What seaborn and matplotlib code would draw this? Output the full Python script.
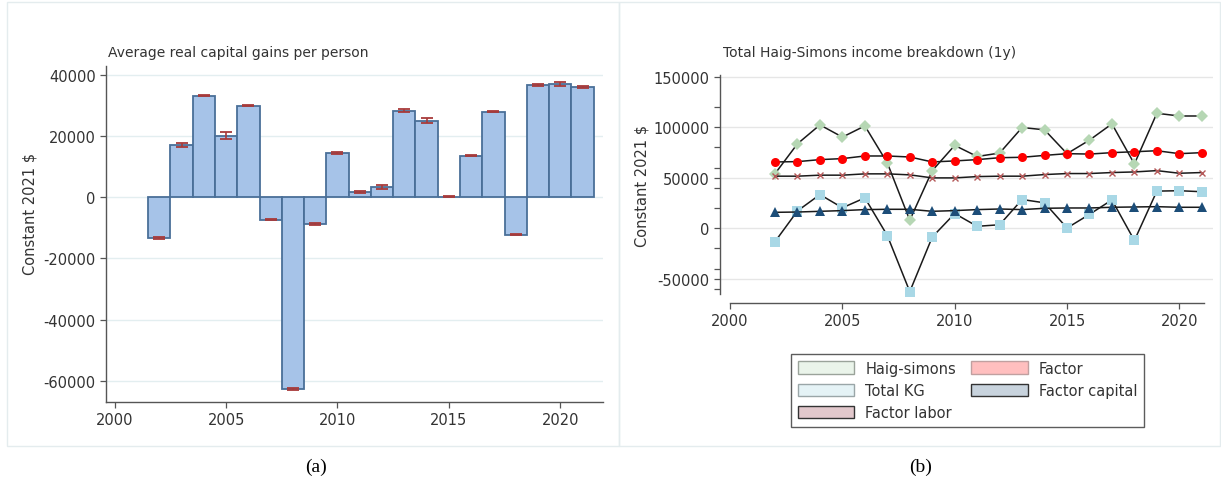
import numpy as np
import pandas as pd
import matplotlib
matplotlib.use("Agg")
import matplotlib.pyplot as plt
from matplotlib.patches import Rectangle, Patch
import seaborn as sns

# ---------------- data ----------------
years = list(range(2002, 2022))

avg_kg = [-13300, 17100, 33300, 20200, 30000, -7300, -62800, -8800, 14500, 1850,
          3400, 28400, 25100, 150, 13700, 28000, -12200, 36700, 37100, 36100]
avg_kg_err = [200, 600, 250, 1100, 250, 200, 400, 250, 300, 300,
              700, 400, 800, 150, 200, 200, 200, 300, 500, 200]

haig_simons = [54000, 83600, 102300, 90200, 101300, 64600, 7900, 57000, 82000, 71000,
               74400, 99700, 97400, 73800, 87200, 103300, 63600, 113800, 111100, 111100]
factor = [65600, 65900, 67900, 68900, 71500, 71500, 70500, 65600, 66600, 67900,
          69800, 70200, 72100, 73800, 73400, 74800, 75700, 76700, 73800, 74800]
factor_labor = [51500, 51500, 52500, 52500, 53800, 53800, 52800, 49800, 49800, 51100,
                51500, 51500, 53100, 54100, 54100, 55100, 55700, 57000, 54400, 55100]
total_kg = avg_kg
factor_capital = [15700, 16000, 16700, 17400, 18400, 18700, 18700, 16700, 17400, 18400,
                  19000, 18400, 19700, 20000, 20000, 20700, 21000, 21300, 20700, 20700]

left_title = "Average real capital gains per person"
right_title = "Total Haig-Simons income breakdown (1y)"
ylabel = "Constant 2021 $"
legend_labels = ["Haig-simons", "Total KG", "Factor labor", "Factor", "Factor capital"]

# ---------------- style ----------------
sns.set_style("white")
plt.rcParams["font.family"] = ["DejaVu Sans"]
plt.rcParams["axes.unicode_minus"] = False
TXT = "#333333"
SP = "#555555"

W, H = 1221, 489
fig = plt.figure(figsize=(W / 100, H / 100), dpi=100)

# panel frames
for (x0, x1) in [(7, 619), (619, 1220)]:
    fig.patches.append(Rectangle((x0 / W, 1 - 447 / H), (x1 - x0) / W, (447 - 3) / H,
                                 transform=fig.transFigure, fill=False,
                                 edgecolor="#e4ecee", lw=1.0))

def style_axis(ax):
    for s in ["top", "right"]:
        ax.spines[s].set_visible(False)
    for s in ["left", "bottom"]:
        ax.spines[s].set_color(SP)
        ax.spines[s].set_linewidth(1.0)
    ax.tick_params(axis="both", which="both", direction="out", color=SP,
                   labelcolor=TXT, labelsize=10.5, length=4, width=0.9,
                   left=True, bottom=True)

# ---------------- left panel ----------------
axL = fig.add_axes([106 / W, 1 - 403 / H, (603.3 - 106) / W, (403 - 66.7) / H])
dfL = pd.DataFrame({"year": years, "value": avg_kg})
sns.barplot(data=dfL, x="year", y="value", native_scale=True, width=1.0,
            color="#a6c3e8", saturation=1, edgecolor="#4a6f98", linewidth=1.3,
            errorbar=None, ax=axL)
for p in axL.patches:
    p.set_facecolor("#a6c3e8")
axL.errorbar(years, avg_kg, yerr=avg_kg_err, fmt="none", ecolor="#a83a3a",
             elinewidth=1.2, capsize=4, capthick=1.3, zorder=5)
axL.set_xlim(1999.61, 2021.93)
axL.set_ylim(-67000, 43100)
axL.set_yticks(np.arange(-60000, 40001, 20000))
axL.set_xticks(np.arange(2000, 2021, 5))
axL.set_xticklabels([str(v) for v in range(2000, 2021, 5)])
axL.yaxis.grid(True, color="#e3eef0", lw=1.0)
axL.set_axisbelow(True)
style_axis(axL)
axL.set_xlabel("")
axL.set_ylabel(ylabel, fontsize=10.5, color=TXT)
axL.yaxis.set_label_coords(-0.137, 0.562)
fig.text(108 / W, 1 - 53 / H, left_title, fontsize=10, color=TXT, va="center", ha="left")

# ---------------- right panel ----------------
axR = fig.add_axes([720 / W, 1 - 304 / H, (1213 - 720) / W, (304 - 76) / H])
series = [
    (haig_simons, "D", "#b6d7b4", 6.5),
    (factor, "o", "#ff0000", 6.5),
    (factor_labor, "x", "#b55a5a", 4.5),
    (total_kg, "s", "#a9d8e6", 6.5),
    (factor_capital, "^", "#1c4d78", 7),
]
for vals, mk, col, ms in series:
    dfR = pd.DataFrame({"year": years, "value": vals})
    sns.lineplot(data=dfR, x="year", y="value", color="#1a1a1a", lw=1.1,
                 marker=mk, markersize=ms, markerfacecolor=col, markeredgecolor=col,
                 markeredgewidth=1.0 if mk == "x" else 0, ax=axR)
axR.set_xlim(1999.55, 2021.5)
axR.set_ylim(-74100, 151700)
axR.set_yticks(np.arange(-50000, 150001, 50000))
axR.set_yticks(np.arange(-60000, 130000, 20000), minor=True)
axR.set_xticks(np.arange(2000, 2021, 5))
axR.set_xticklabels([str(v) for v in range(2000, 2021, 5)])
axR.spines["left"].set_bounds(-65000, 151700)
axR.spines["bottom"].set_bounds(2000, 2021.1)
axR.yaxis.grid(True, which="major", color="#e6e6e6", lw=1.0)
axR.set_axisbelow(True)
style_axis(axR)
axR.tick_params(axis="y", which="minor", length=4, width=0.9, color=SP)
axR.set_xlabel("")
axR.set_ylabel(ylabel, fontsize=10.5, color=TXT)
axR.yaxis.set_label_coords(-0.144, 0.518)
fig.text(723 / W, 1 - 53 / H, right_title, fontsize=10, color=TXT, va="center", ha="left")

handles = [
    Patch(facecolor="#eaf4ea", edgecolor="#9aa39a", lw=1.0),
    Patch(facecolor="#e5f3f6", edgecolor="#9aa6a8", lw=1.0),
    Patch(facecolor="#e2c8cc", edgecolor="#333333", lw=1.0),
    Patch(facecolor="#ffbfbf", edgecolor="#c0a0a0", lw=1.0),
    Patch(facecolor="#c8d3dd", edgecolor="#333333", lw=1.0),
]
leg = fig.legend(handles, legend_labels, loc="upper left",
                 bbox_to_anchor=(791 / W, 1 - 355 / H), ncol=2, fontsize=10.5,
                 frameon=True, fancybox=False, edgecolor="#333333",
                 handlelength=3.9, handleheight=0.95, handletextpad=0.75,
                 columnspacing=1.0, labelspacing=0.5, borderpad=0.45,
                 borderaxespad=0)
leg.get_frame().set_linewidth(1.0)
for t in leg.get_texts():
    t.set_color(TXT)

# captions
fig.text(316 / W, 1 - 467 / H, "(a)", fontsize=14, family="Liberation Serif",
         ha="center", va="center", color="black")
fig.text(921 / W, 1 - 467 / H, "(b)", fontsize=14, family="Liberation Serif",
         ha="center", va="center", color="black")

fig.savefig("out.png", dpi=100)
